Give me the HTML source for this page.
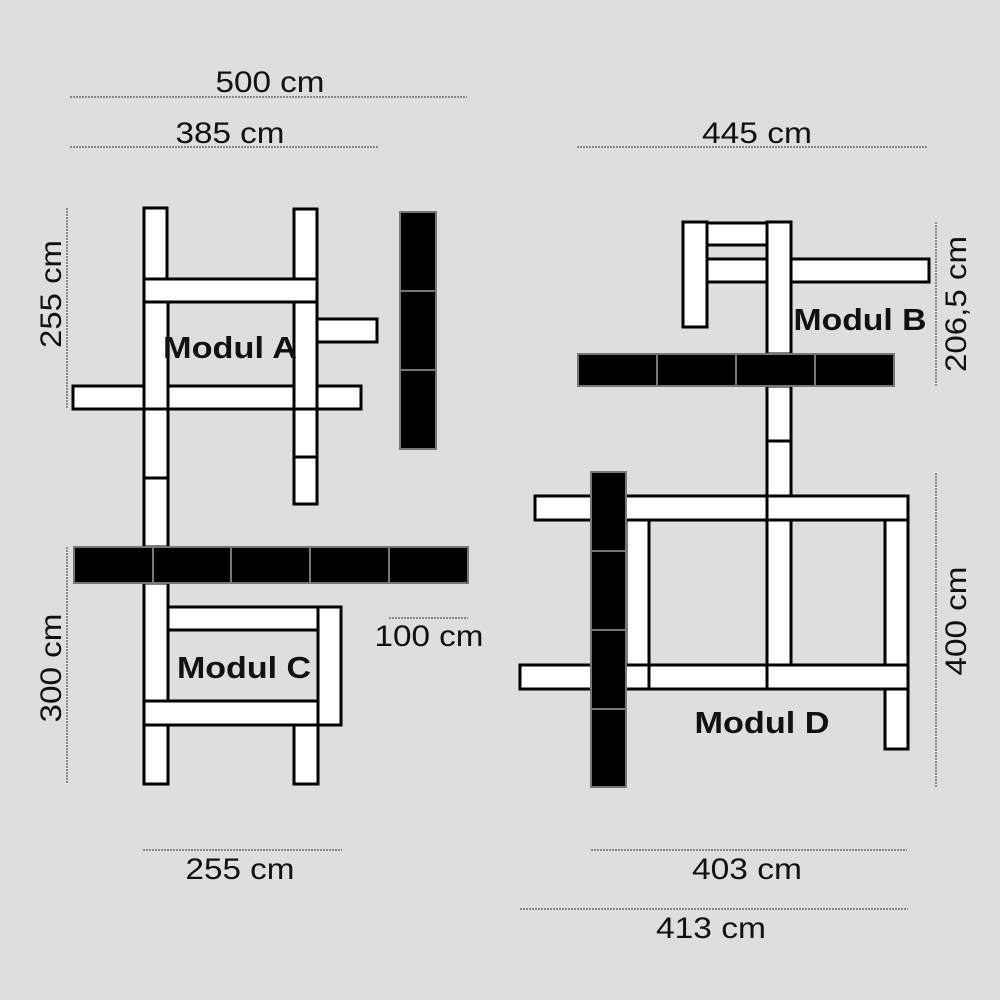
<!DOCTYPE html>
<html><head><style>body{margin:0;background:#dfdedc}svg{display:block}</style></head><body>
<svg width="1000" height="1000" xmlns="http://www.w3.org/2000/svg" font-family="Liberation Sans, sans-serif">
<rect width="1000" height="1000" fill="#dfdedc"/>
<g stroke="#333" stroke-width="1" stroke-dasharray="2,1" fill="none">
<line x1="70" y1="97" x2="467" y2="97"/><line x1="70" y1="147" x2="378" y2="147"/>
<line x1="577" y1="147" x2="928" y2="147"/><line x1="67" y1="208" x2="67" y2="409"/>
<line x1="936" y1="222" x2="936" y2="386"/><line x1="67" y1="547" x2="67" y2="784"/>
<line x1="936" y1="473" x2="936" y2="787"/><line x1="389" y1="618" x2="468" y2="618"/>
<line x1="143" y1="850" x2="342" y2="850"/><line x1="591" y1="850" x2="907" y2="850"/>
<line x1="520" y1="909" x2="908" y2="909"/>
</g>
<g font-size="30" fill="#111" text-anchor="middle" lengthAdjust="spacingAndGlyphs">
<text x="270" y="92" textLength="109" lengthAdjust="spacingAndGlyphs">500 cm</text>
<text x="230" y="143" textLength="109" lengthAdjust="spacingAndGlyphs">385 cm</text>
<text x="757" y="143" textLength="110" lengthAdjust="spacingAndGlyphs">445 cm</text>
<text x="429" y="646" textLength="109" lengthAdjust="spacingAndGlyphs">100 cm</text>
<text x="240" y="879" textLength="109" lengthAdjust="spacingAndGlyphs">255 cm</text>
<text x="747" y="879" textLength="110" lengthAdjust="spacingAndGlyphs">403 cm</text>
<text x="711" y="938" textLength="110" lengthAdjust="spacingAndGlyphs">413 cm</text>
<text transform="translate(61,294) rotate(-90)" textLength="108" lengthAdjust="spacingAndGlyphs">255 cm</text>
<text transform="translate(966,304) rotate(-90)" textLength="136" lengthAdjust="spacingAndGlyphs">206,5 cm</text>
<text transform="translate(61,668) rotate(-90)" textLength="109" lengthAdjust="spacingAndGlyphs">300 cm</text>
<text transform="translate(966,621) rotate(-90)" textLength="109" lengthAdjust="spacingAndGlyphs">400 cm</text>
</g>
<g fill="#fff" stroke="#000" stroke-width="3">
<rect x="73" y="386" width="288" height="23"/>
<rect x="144" y="208" width="23" height="71"/>
<rect x="144" y="302" width="24" height="107"/>
<rect x="144" y="409" width="24" height="69"/>
<rect x="144" y="478" width="24" height="69"/>
<rect x="294" y="209" width="23" height="70"/>
<rect x="294" y="302" width="23" height="107"/>
<rect x="294" y="409" width="23" height="48"/>
<rect x="294" y="457" width="23" height="47"/>
<rect x="144" y="279" width="173" height="23"/>
<rect x="317" y="319" width="60" height="23"/>
<rect x="144" y="583" width="24" height="118"/>
<rect x="168" y="607" width="150" height="23"/>
<rect x="318" y="607" width="23" height="118"/>
<rect x="144" y="701" width="174" height="24"/>
<rect x="144" y="725" width="24" height="59"/>
<rect x="294" y="725" width="24" height="59"/>
<rect x="683" y="222" width="24" height="105"/>
<rect x="707" y="223" width="60" height="22"/>
<rect x="707" y="259" width="222" height="23"/>
<rect x="767" y="222" width="24" height="132"/>
<rect x="767" y="386" width="24" height="55"/>
<rect x="767" y="441" width="24" height="55"/>
<rect x="535" y="496" width="232" height="24"/>
<rect x="767" y="496" width="141" height="24"/>
<rect x="626" y="520" width="23" height="145"/>
<rect x="767" y="520" width="24" height="145"/>
<rect x="885" y="520" width="23" height="229"/>
<rect x="520" y="665" width="129" height="24"/>
<rect x="649" y="665" width="118" height="24"/>
<rect x="767" y="665" width="141" height="24"/>
</g>
<g fill="#000" stroke="#777" stroke-width="2">
<rect x="400" y="212" width="36" height="79"/><rect x="400" y="291" width="36" height="79"/><rect x="400" y="370" width="36" height="79"/>
<rect x="74" y="547" width="79" height="36"/><rect x="153" y="547" width="78" height="36"/><rect x="231" y="547" width="79" height="36"/><rect x="310" y="547" width="79" height="36"/><rect x="389" y="547" width="79" height="36"/>
<rect x="578" y="354" width="79" height="32"/><rect x="657" y="354" width="79" height="32"/><rect x="736" y="354" width="79" height="32"/><rect x="815" y="354" width="79" height="32"/>
<rect x="591" y="472" width="35" height="79"/><rect x="591" y="551" width="35" height="79"/><rect x="591" y="630" width="35" height="79"/><rect x="591" y="709" width="35" height="78"/>
</g>
<g font-size="31" font-weight="bold" fill="#111" text-anchor="middle">
<text x="230" y="358" textLength="134" lengthAdjust="spacingAndGlyphs">Modul A</text>
<text x="860" y="330" textLength="133" lengthAdjust="spacingAndGlyphs">Modul B</text>
<text x="244" y="678" textLength="134" lengthAdjust="spacingAndGlyphs">Modul C</text>
<text x="762" y="733" textLength="135" lengthAdjust="spacingAndGlyphs">Modul D</text>
</g>
</svg>
</body></html>
